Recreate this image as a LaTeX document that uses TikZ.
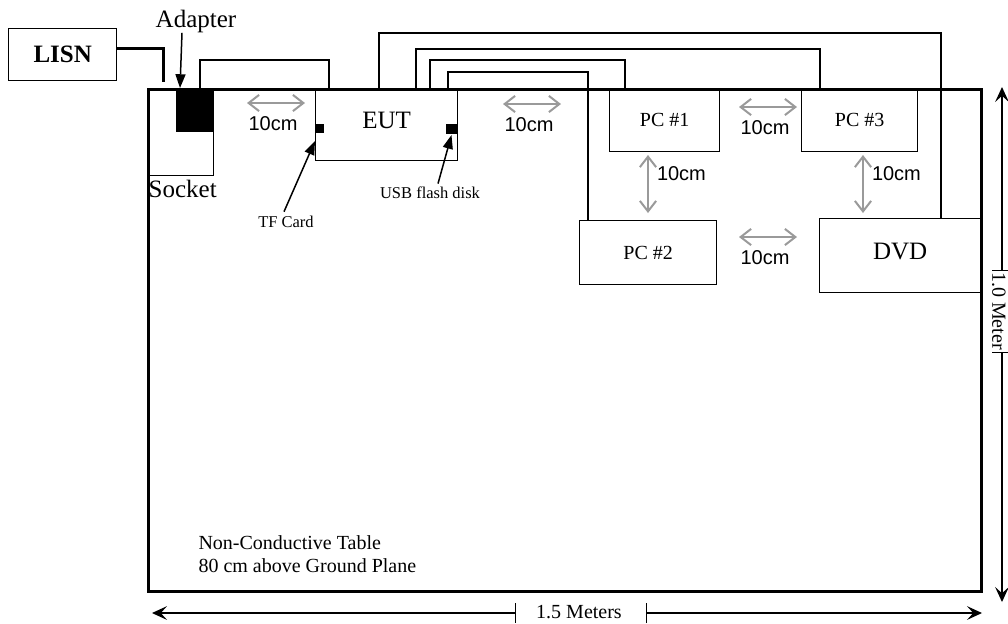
\documentclass[tikz,border=0pt]{standalone}
\usepackage{fontspec}
\setmainfont{Liberation Serif}
\newfontfamily\arialfont{Liberation Sans}
\usepackage{tikz}
\usetikzlibrary{arrows.meta,calc,positioning}
\definecolor{GapGray}{HTML}{9A9A9A}
\newcommand\tinylbl{\fontsize{6.6pt}{8pt}\selectfont}
\tikzset{
  box/.style={draw,line width=.55pt,inner sep=0pt,anchor=north west},
  port/.style={fill=black,inner sep=0pt,anchor=north west},
  lbl/.style={inner sep=0pt},
  cable/.style={line width=.55pt},
  pointer/.style={line width=.6pt,-{Triangle[length=5.5pt,width=4pt]}},
  gap/.style={GapGray,line width=.8pt,{Straight Barb[length=4.2pt,width=6.5pt]}-{Straight Barb[length=4.2pt,width=6.5pt]}},
  dimline/.style={line width=.5pt},
  gaptext/.style={font=\arialfont\footnotesize,inner sep=1pt},
}

\begin{document}
\begin{tikzpicture}[x=.4pt,y=.4pt]
      \useasboundingbox (0,0) rectangle (1008,-623);
      % table, mains side
      \node[box,line width=1.2pt,minimum width=333.2pt,minimum height=200.8pt] (table) at (147,-88) {};
      \node[box,font=\bfseries,minimum width=43.2pt,minimum height=20.8pt] (lisn) at (8,-28) {LISN};
      \node[box,minimum width=26.4pt,minimum height=34.8pt] (socket) at (147,-88) {};
      \node[port,minimum width=15.2pt,minimum height=17.2pt] (adapter) at (175,-88) {};
      \node[lbl,anchor=north] (sockettext) at ($(socket.south)+(2,-3)$) {Socket};
      \node[lbl] (adaptertext) at (196,-21) {Adapter};
      \coordinate (plug) at (163,-82);
      \draw[line width=1.2pt] ($(lisn.east)+(0,6)$) -| (plug);
      \draw[pointer] ($(adaptertext.south)+(-14,0)$) -- ($(adapter.north west)+(5,0)$);
      % EUT
      \node[box,text depth=3.6pt,minimum width=56.8pt,minimum height=28.8pt] (eut) at (315,-88) {EUT};
      \node[port,minimum width=3.2pt,minimum height=3.6pt] (tf) at (315,-123) {};
      \node[port,minimum width=4.8pt,minimum height=4pt] (usb) at (445,-123) {};
      \node[lbl,font=\tinylbl] (tftext) at (286,-222) {TF Card};
      \node[lbl,font=\tinylbl] (usbtext) at (430,-193) {USB flash disk};
      \draw[pointer] ($(tftext.north)+(-2,4)$) -- ($(tf.south west)+(0,-8)$);
      \draw[pointer] ($(usbtext.north)+(8,3)$) -- ($(usb.south)+(0,-1)$);
      % PCs and DVD
      \node[box,font=\footnotesize,minimum width=44pt,minimum height=25.2pt] (pc1) at (609,-88) {PC \#1};
      \node[box,font=\footnotesize,minimum width=46.4pt,minimum height=25.2pt] (pc3) at (801,-88) {PC \#3};
      \node[box,font=\footnotesize,minimum width=54.8pt,minimum height=25.6pt] (pc2) at (579,-220) {PC \#2};
      \node[box,text depth=3.6pt,minimum width=64.4pt,minimum height=29.6pt] (dvd) at (819,-218) {DVD};
      % cables
      \draw[cable] ($(adapter.north west)+(25,0)$) -- ++(0,28) -| ($(eut.north west)+(14,0)$);
      \draw[cable] ($(eut.north west)+(64,0)$) -- ++(0,55) -| ($(dvd.north west)+(122,0)$);
      \draw[cable] ($(eut.north west)+(101,0)$) -- ++(0,39) -| ($(pc3.north west)+(19,0)$);
      \draw[cable] ($(eut.north west)+(115,0)$) -- ++(0,28) -| ($(pc1.north west)+(16,0)$);
      \draw[cable] ($(eut.north west)+(133,0)$) -- ++(0,16) -| ($(pc2.north west)+(9,0)$);
      % 10cm spacings
      \foreach \x/\y [count=\i] in {276/-103,532/-104,768/-107,768/-237}{
        \draw[gap] (\x-29,\y) -- (\x+29,\y);
        \node[gaptext] (gh\i) at (\x-3,\y-21) {10cm};}
      \foreach \x [count=\i] in {648,863}{
        \draw[gap] (\x,-155) -- (\x,-213);
        \node[gaptext,anchor=west] (gv\i) at (\x+6,-174) {10cm};}
      % table text
      \node[lbl,font=\footnotesize,anchor=west] (tabletext) at (198,-543) {Non-Conductive Table};
      \node[lbl,font=\footnotesize,anchor=west] (planetext) at (198,-566) {80 cm above Ground Plane};
      % dimensions
      \node[lbl,font=\footnotesize] (widthtext) at (579,-612) {1.5 Meters};
      \draw[dimline,{Stealth[length=6pt,width=5.5pt,inset=2.5pt]}-{Bar[width=8pt]}] (152,-613) -- (516,-613);
      \draw[dimline,{Bar[width=8pt]}-{Stealth[length=6pt,width=5.5pt,inset=2.5pt]}] (646,-613) -- (982,-613);
      \node[lbl,font=\footnotesize,rotate=-90] (heighttext) at (999,-311) {1.0 Meter};
      \draw[dimline,{Stealth[length=6pt,width=5.5pt,inset=2.5pt]}-{Bar[width=8pt]}] (1002,-87) -- (1002,-271);
      \draw[dimline,{Bar[width=8pt]}-{Stealth[length=6pt,width=5.5pt,inset=2.5pt]}] (1002,-352) -- (1002,-602);
    \end{tikzpicture}
\end{document}
